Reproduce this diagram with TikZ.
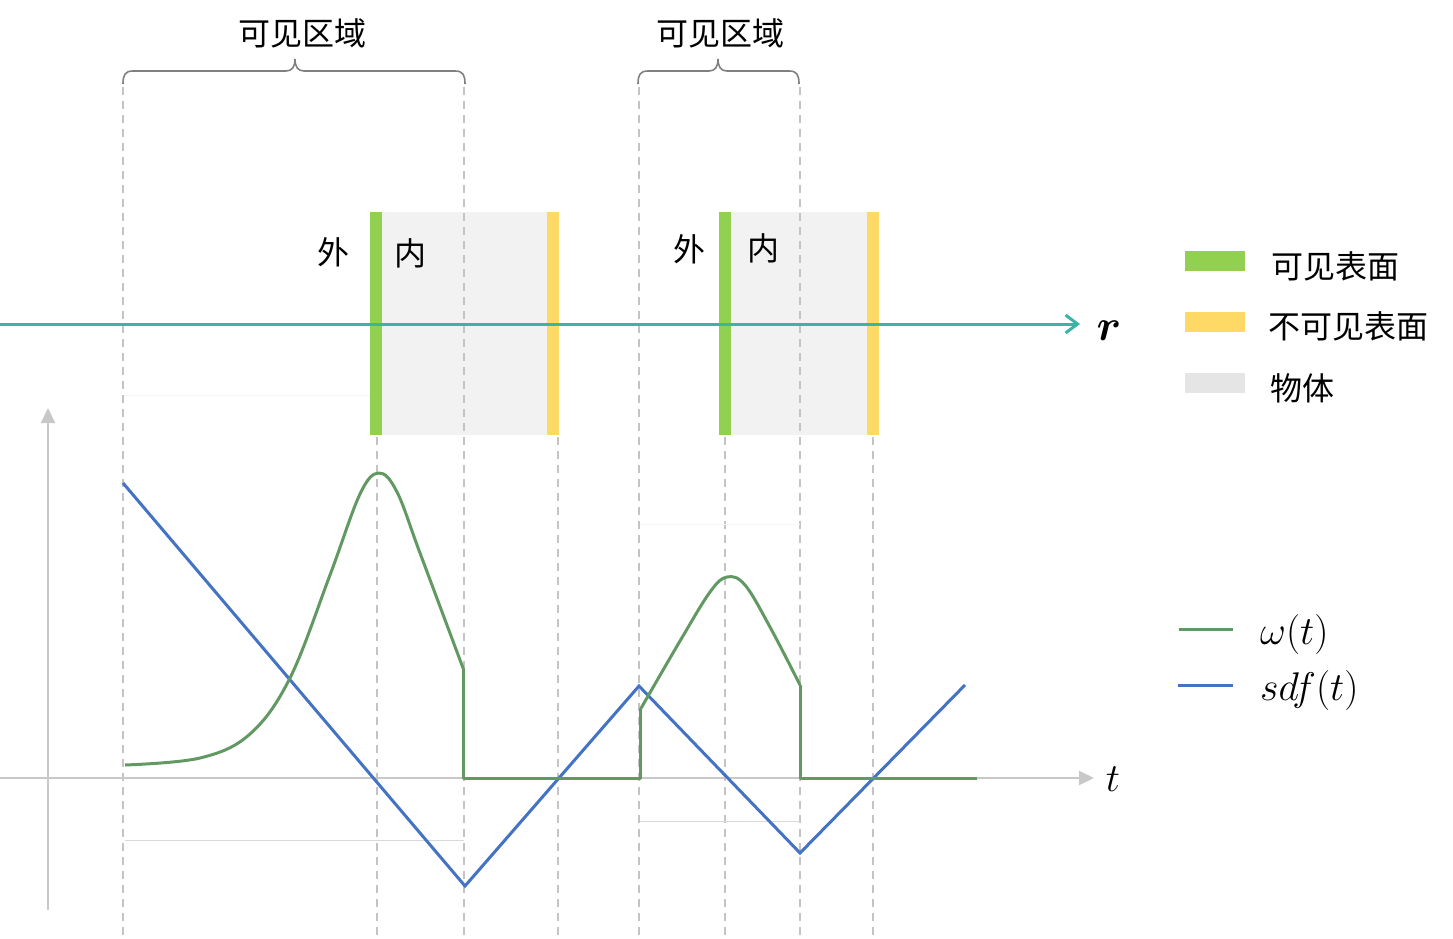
\RequirePackage{fix-cm}
\documentclass[tikz,border=0pt]{standalone}
\usepackage{fontspec}
\usepackage{bm}
\newfontfamily\cjk{Noto Sans CJK SC}
\usetikzlibrary{arrows.meta}
\definecolor{surfgreen}{RGB}{146,208,80}
\definecolor{hideyellow}{RGB}{255,217,102}
\definecolor{objgray}{RGB}{242,242,242}
\definecolor{leggray}{RGB}{229,229,229}
\definecolor{raycolor}{RGB}{60,180,165}
\definecolor{wgreen}{RGB}{98,152,98}
\definecolor{sdfblue}{RGB}{68,114,196}
\definecolor{axisgray}{RGB}{200,200,200}
\definecolor{guidegray}{RGB}{196,196,196}
\newcommand{\cn}[1]{{\cjk\fontsize{32}{38}\selectfont #1}}
\newcommand{\mth}[1]{{\fontsize{40}{46}\selectfont $#1$}}

\begin{document}
\begin{tikzpicture}[x=1pt,y=-1pt,
   guide/.style={guidegray,line width=1.3pt,dash pattern=on 8pt off 6pt},
   span/.style={gray,line width=1.6pt},
   axis/.style={axisgray,line width=2pt,-{Triangle[length=15pt,width=14pt]}},
   wline/.style={wgreen,line width=3pt,line join=round},
   sdfline/.style={sdfblue,line width=3pt},
   faint/.style={gray!30,line width=1pt}]
   \useasboundingbox (0,0) rectangle (1453,939);
   % objects on the ray
   \fill[objgray] (370,212) rectangle (558,435);
   \fill[objgray] (719,212) rectangle (879,435);
   \fill[surfgreen] (370,212) rectangle (382,435);
   \fill[hideyellow] (547,212) rectangle (559,435);
   \fill[surfgreen] (719,212) rectangle (731,435);
   \fill[hideyellow] (867,212) rectangle (879,435);
   \node (out1) at (333,252) {\cn{外}};
   \node (in1)  at (410,253) {\cn{内}};
   \node (out2) at (689,249) {\cn{外}};
   \node (in2)  at (763,248) {\cn{内}};
   % guide lines
   \draw[guide] (123,87) -- (123,939);
   \draw[guide] (464,87) -- (464,939);
   \draw[guide] (639,87) -- (639,939);
   \draw[guide] (800,87) -- (800,939);
   \draw[guide] (377,437) -- (377,939);
   \draw[guide] (558,437) -- (558,939);
   \draw[guide] (725,437) -- (725,939);
   \draw[guide] (873,437) -- (873,939);
   \draw[faint] (125,840) -- (464,840);
   \draw[faint] (640,821) -- (800,821);
   \draw[gray!8,line width=1pt] (125,395) -- (370,395);
   \draw[gray!8,line width=1pt] (640,524) -- (800,524);
   % visible regions
   \draw[span] (123,84) .. controls (123,75) and (125,71) .. (133,71) -- (286,71)
      .. controls (292,71) and (295,67) .. (295,59)
      .. controls (295,67) and (298,71) .. (304,71) -- (455,71)
      .. controls (463,71) and (465,75) .. (465,84);
   \draw[span] (638,84) .. controls (638,75) and (640,71) .. (648,71) -- (709,71)
      .. controls (715,71) and (718,67) .. (718,59)
      .. controls (718,67) and (721,71) .. (727,71) -- (789,71)
      .. controls (797,71) and (799,75) .. (799,84);
   \node (vis1) at (302,33) {\cn{可见区域}};
   \node (vis2) at (720,33) {\cn{可见区域}};
   % ray
   \coordinate (ray0) at (0,324);
   \coordinate (ray1) at (1080,324);
   \draw[raycolor,line width=3pt,-{Straight Barb[length=12pt,width=18pt]}] (ray0) -- (ray1);
   \node (rlab) at (1109,331) {{\fontsize{44}{50}\selectfont $\bm{r}$}};
   % axes
   \coordinate (ybot) at (48,910);
   \coordinate (ytop) at (48,408);
   \coordinate (xleft) at (0,778);
   \coordinate (xright) at (1094,778);
   \draw[axis] (ybot) -- (ytop);
   \draw[axis] (xleft) -- (xright);
   \node (tlab) at (1113,779) {\mth{t}};
   % sdf(t)
   \coordinate (s0) at (123,483);
   \coordinate (s1) at (465,886);
   \coordinate (s2) at (639,686);
   \coordinate (s3) at (800,853);
   \coordinate (s4) at (965,685);
   \draw[sdfline] (s0) -- (s1) -- (s2) -- (s3) -- (s4);
   % omega(t)
   \draw[wline] plot[smooth,tension=0.6] coordinates {(125,765) (200,758) (250,734)
      (290,678) (330,575) (360,494) (379,473) (397,492) (420,553) (463,668)};
   \draw[wline] (463,668) -- (463,778) -- (640,778) -- (640,710);
   \draw[wline] plot[smooth,tension=0.6] coordinates {(640,710) (680,641) (710,592)
      (727,577) (745,585) (770,627) (800,685)};
   \draw[wline] (800,685) -- (800,778) -- (977,778);
   % legend
   \fill[surfgreen] (1185,251) rectangle (1245,271);
   \fill[hideyellow] (1185,312) rectangle (1245,332);
   \fill[leggray] (1185,373) rectangle (1245,393);
   \node[anchor=west,inner sep=0pt] (lvis) at (1271,266) {\cn{可见表面}};
   \node[anchor=west,inner sep=0pt] (lhid) at (1268,326) {\cn{不可见表面}};
   \node[anchor=west,inner sep=0pt] (lobj) at (1270,388) {\cn{物体}};
   \draw[wline] (1179,629) -- (1233,629);
   \draw[sdfline] (1178,685) -- (1233,685);
   \node[anchor=west,inner sep=0pt] (lw) at (1260,634) {\mth{\omega(t)}};
   \node[anchor=west,inner sep=0pt] (ls) at (1260,690) {\mth{sdf(t)}};
\end{tikzpicture}
\end{document}
